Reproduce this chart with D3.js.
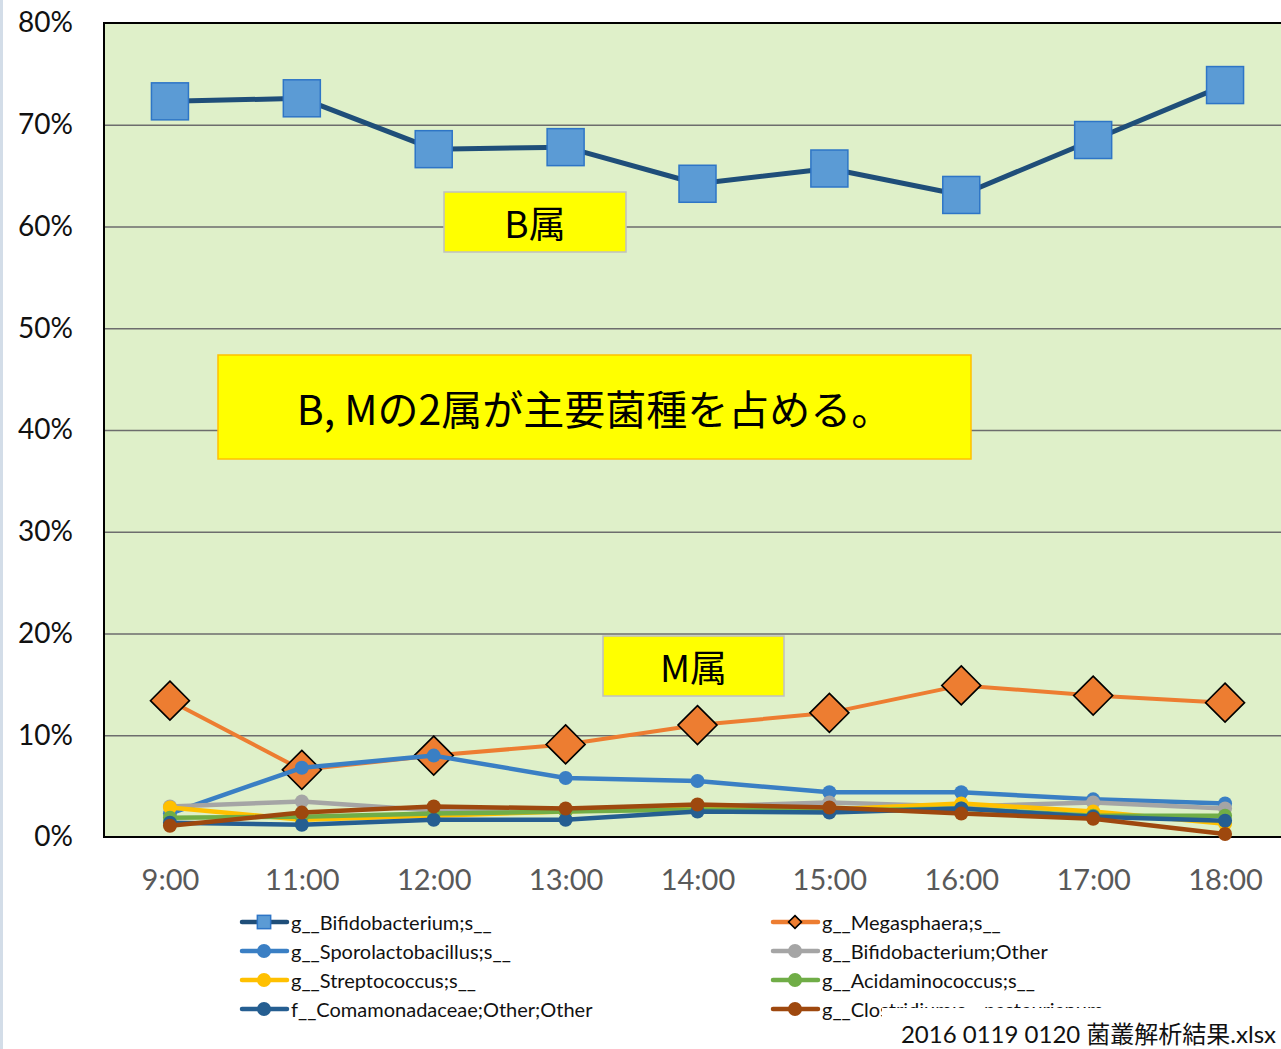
<!DOCTYPE html>
<html><head><meta charset="utf-8">
<script src="https://cdn.jsdelivr.net/npm/d3@7"></script>
<style>html,body{margin:0;padding:0;background:#fff;overflow:hidden}svg{display:block}</style>
</head><body>
<script>
const categories = ["9:00","11:00","12:00","13:00","14:00","15:00","16:00","17:00","18:00"];
const yTickValues = [0,0.1,0.2,0.3,0.4,0.5,0.6,0.7,0.8];
const seriesNames = ["g__Bifidobacterium;s__","g__Megasphaera;s__","g__Sporolactobacillus;s__","g__Bifidobacterium;Other","g__Streptococcus;s__","g__Acidaminococcus;s__","f__Comamonadaceae;Other;Other","g__Clostridium;s__pasteurianum"];
const bifidobacterium = [0.723,0.726,0.676,0.678,0.642,0.657,0.631,0.685,0.739];
const megasphaera = [0.134,0.066,0.080,0.091,0.110,0.122,0.149,0.139,0.132];
const sporolactobacillus = [0.023,0.068,0.080,0.058,0.055,0.044,0.044,0.037,0.033];
const bifidobacteriumOther = [0.030,0.035,0.026,0.026,0.030,0.034,0.030,0.034,0.028];
const streptococcus = [0.029,0.017,0.021,0.025,0.030,0.027,0.033,0.025,0.013];
const acidaminococcus = [0.019,0.020,0.023,0.025,0.027,0.026,0.028,0.021,0.021];
const comamonadaceae = [0.014,0.012,0.017,0.017,0.025,0.024,0.028,0.020,0.016];
const clostridium = [0.011,0.024,0.030,0.028,0.032,0.029,0.023,0.018,0.003];
const annotations = ["B属","B, Mの2属が主要菌種を占める。","M属"];
const fileLabel = "2016 0119 0120 菌叢解析結果.xlsx";

(function(){
const W = 1281, H = 1049;
const svg = d3.select("body").append("svg").attr("width", W).attr("height", H);
const latin = "Lato, 'Noto Sans CJK JP', sans-serif";
const jp = "'Noto Sans CJK JP', sans-serif";

const pL = 104, pR = 1291, pT = 23, pB = 837;
const x = d3.scalePoint().domain(categories).range([pL, pR]).padding(0.5);
const y = d3.scaleLinear().domain([0, 0.8]).range([pB, pT]);

// left edge line
svg.append("rect").attr("x",0).attr("y",0).attr("width",3).attr("height",H).attr("fill","#d3dde8");

// plot area
svg.append("rect").attr("x",pL).attr("y",pT).attr("width",pR-pL).attr("height",pB-pT).attr("fill","#dff0c9");

// gridlines
const grid = svg.append("g")
  .attr("transform",`translate(${pL},0)`)
  .call(d3.axisLeft(y).tickValues(yTickValues.filter(v=>v>0 && v<0.8)).tickSize(-(pR-pL)).tickFormat(""));
grid.select(".domain").remove();
grid.selectAll("line").attr("stroke","#6d6d6d").attr("stroke-width",1.6);

// border
svg.append("path").attr("d",`M${pR},${pT}H${pL}V${pB}H${pR}`).attr("fill","none").attr("stroke","#000").attr("stroke-width",2);

// y axis labels
const yAxis = svg.append("g").attr("transform","translate(80,0)")
  .call(d3.axisLeft(y).tickValues(yTickValues).tickSize(0).tickPadding(7).tickFormat(d3.format(".0%")));
yAxis.select(".domain").remove();
yAxis.selectAll("text").attr("font-family",latin).attr("font-size",28).attr("fill","#111");

// x axis labels
const xAxis = svg.append("g").attr("transform",`translate(0,${pB})`)
  .call(d3.axisBottom(x).tickSize(0).tickPadding(32));
xAxis.select(".domain").remove();
xAxis.selectAll("text").attr("font-family",latin).attr("font-size",29).attr("fill","#595959");

// text boxes (drawn behind series)
function box(x0,y0,x1,y1,stroke,txt,fs){
  svg.append("rect").attr("x",x0).attr("y",y0).attr("width",x1-x0).attr("height",y1-y0)
    .attr("fill","#ffff00").attr("stroke",stroke).attr("stroke-width",1.5);
  svg.append("text").attr("x",(x0+x1)/2).attr("y",(y0+y1)/2).attr("text-anchor","middle")
    .attr("dominant-baseline","central").attr("font-family",jp).attr("font-size",fs).attr("fill","#000").text(txt);
}
box(444,192,626,252,"#c0c0c0",annotations[0],37);
box(218,355,971,459,"#ffc000",annotations[1],41);
box(603,636,784,696,"#c0c0c0",annotations[2],37);

const series = [
  {name:seriesNames[0], values:bifidobacterium, line:"#1f4e79", fill:"#5b9bd5", stroke:"#2e75c6", marker:"square", w:5},
  {name:seriesNames[1], values:megasphaera, line:"#ed7d31", fill:"#ed7d31", stroke:"#000", marker:"diamond", w:4},
  {name:seriesNames[2], values:sporolactobacillus, line:"#3a7fc4", fill:"#3a7fc4", stroke:"none", marker:"circle", w:4.5},
  {name:seriesNames[3], values:bifidobacteriumOther, line:"#a5a5a5", fill:"#a5a5a5", stroke:"none", marker:"circle", w:4.5},
  {name:seriesNames[4], values:streptococcus, line:"#ffc000", fill:"#ffc000", stroke:"none", marker:"circle", w:4.5},
  {name:seriesNames[5], values:acidaminococcus, line:"#70ad47", fill:"#70ad47", stroke:"none", marker:"circle", w:4.5},
  {name:seriesNames[6], values:comamonadaceae, line:"#255e91", fill:"#255e91", stroke:"none", marker:"circle", w:4.5},
  {name:seriesNames[7], values:clostridium, line:"#9e480e", fill:"#9e480e", stroke:"none", marker:"circle", w:4.5}
];

function drawMarker(g, s, cx, cy, scale){
  if (s.marker === "square") {
    const a = 37*scale;
    g.append("rect").attr("x",cx-a/2).attr("y",cy-a/2).attr("width",a).attr("height",a)
      .attr("fill",s.fill).attr("stroke",s.stroke).attr("stroke-width",1.5);
  } else if (s.marker === "diamond") {
    const r = 19.5*scale;
    g.append("path").attr("d",`M${cx},${cy-r}L${cx+r},${cy}L${cx},${cy+r}L${cx-r},${cy}Z`)
      .attr("fill",s.fill).attr("stroke",s.stroke).attr("stroke-width",1.6);
  } else {
    g.append("circle").attr("cx",cx).attr("cy",cy).attr("r",7*scale).attr("fill",s.fill);
  }
}

const line = d3.line().x((d,i)=>x(categories[i])).y(d=>y(d));
series.forEach(s=>{
  const g = svg.append("g");
  g.append("path").attr("d",line(s.values)).attr("fill","none").attr("stroke",s.line)
    .attr("stroke-width",s.w).attr("stroke-linejoin","round").attr("stroke-linecap","round");
  s.values.forEach((v,i)=>drawMarker(g,s,x(categories[i]),y(v),1));
});

// legend
const legendRows = [922,951,980,1009];
series.forEach((s,i)=>{
  const col = i%2, row = Math.floor(i/2);
  const lx = col===0 ? 240 : 771;
  const ly = legendRows[row];
  const g = svg.append("g");
  g.append("line").attr("x1",lx+2).attr("x2",lx+47).attr("y1",ly).attr("y2",ly)
    .attr("stroke",s.line).attr("stroke-width",4.5).attr("stroke-linecap","round");
  if (s.marker==="square") drawMarker(g,s,lx+24,ly,0.36);
  else if (s.marker==="diamond") drawMarker(g,s,lx+24,ly,0.33);
  else drawMarker(g,s,lx+24,ly,1);
  g.append("text").attr("x",lx+51).attr("y",ly).attr("dominant-baseline","central")
    .attr("font-family",latin).attr("font-size",20).attr("fill","#111").text(s.name);
});

// file label overlay
svg.append("rect").attr("x",882).attr("y",1008).attr("width",W-882).attr("height",H-1008).attr("fill","#fff");
svg.append("text").attr("x",1276).attr("y",1033).attr("text-anchor","end").attr("dominant-baseline","central")
  .attr("font-family",latin).attr("font-size",24).attr("fill","#111").text(fileLabel);
})();
</script>
</body></html>
